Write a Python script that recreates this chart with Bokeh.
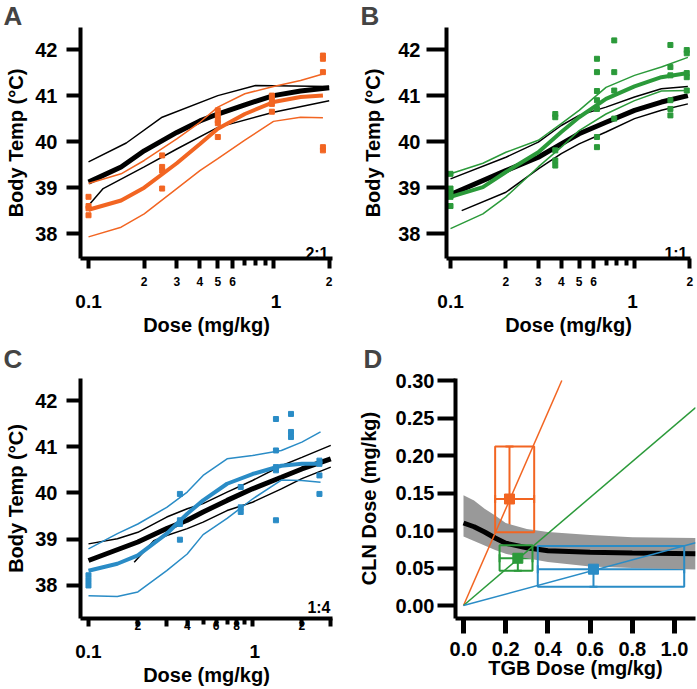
import math
from bokeh.plotting import figure
from bokeh.models import (FixedTicker, Label, CustomJSTickFormatter, Whisker, ColumnDataSource,
                          TeeHead, NumeralTickFormatter, Range1d, Title)
from bokeh.layouts import column, row
from bokeh.embed import file_html
from bokeh.resources import INLINE

FONT = "Liberation Sans"
ORANGE = "#F26522"
GREEN = "#2B9A3A"
BLUE = "#2A8CC6"
GRAY = "#999999"
AXIS_X_COLOR = "black"

# ---------------- Panel A (2:1) ----------------
A_dose = [0.1, 0.25, 0.5, 0.98, 1.85]
A_temps = [[38.8, 38.6, 38.55, 38.4],
           [39.7, 39.45, 39.37, 38.98],
           [40.68, 40.57, 40.46, 40.4, 40.1],
           [41.0, 40.9, 40.82, 40.65],
           [41.87, 41.8, 41.51, 39.88, 39.81]]
A_blk_x = [0.1, 0.15, 0.2, 0.3, 0.4, 0.5, 0.7, 1.0, 1.4, 2.0]
A_blk_y = [39.12, 39.45, 39.8, 40.2, 40.45, 40.6, 40.8, 41.0, 41.1, 41.17]
A_blk_hi_x = [0.1, 0.16, 0.25, 0.5, 0.8, 2.0]
A_blk_hi_y = [39.56, 39.97, 40.53, 41.0, 41.22, 41.2]
A_blk_lo_x = [0.1, 0.12, 0.2, 0.3, 0.5, 1.0, 2.0]
A_blk_lo_y = [38.61, 38.98, 39.45, 39.84, 40.31, 40.64, 40.89]
A_fit_x = [0.1, 0.15, 0.2, 0.3, 0.4, 0.5, 0.7, 1.0, 1.4, 1.85]
A_fit_y = [38.52, 38.72, 39.0, 39.53, 39.95, 40.28, 40.6, 40.86, 40.97, 41.0]
A_fit_hi_y = [39.09, 39.3, 39.59, 40.06, 40.42, 40.75, 41.04, 41.2, 41.33, 41.47]
A_fit_lo_y = [37.93, 38.14, 38.43, 38.98, 39.37, 39.63, 40.03, 40.44, 40.53, 40.52]

# ---------------- Panel B (1:1) ----------------
B_dose = [0.1, 0.371, 0.625, 0.776, 1.567, 1.923]
B_temps = [[39.3, 38.98, 38.9, 38.8, 38.6],
           [40.6, 40.53, 39.81, 39.59, 39.48],
           [41.8, 41.51, 41.1, 40.9, 40.71, 40.1, 39.88],
           [42.2, 41.51, 41.11, 40.5],
           [42.1, 41.62, 41.44, 40.9, 40.71, 40.57],
           [41.99, 41.92, 41.49, 41.4, 41.11]]
B_blk_x = [0.1, 0.2, 0.3, 0.4, 0.5, 0.7, 1.0, 1.4, 1.95]
B_blk_y = [38.85, 39.37, 39.66, 39.95, 40.17, 40.42, 40.68, 40.86, 41.0]
B_blk_hi_y = [39.19, 39.66, 39.99, 40.35, 40.57, 40.75, 40.97, 41.15, 41.2]
B_blk_lo_x = [0.115, 0.2, 0.3, 0.4, 0.5, 0.7, 1.0, 1.4, 1.95]
B_blk_lo_y = [38.5, 38.9, 39.41, 39.74, 39.95, 40.21, 40.5, 40.68, 40.82]
B_fit_x = [0.1, 0.15, 0.2, 0.3, 0.4, 0.5, 0.7, 1.0, 1.4, 1.95]
B_fit_y = [38.8, 39.01, 39.34, 39.77, 40.21, 40.53, 40.93, 41.2, 41.4, 41.49]
B_fit_hi_y = [39.3, 39.53, 39.77, 40.03, 40.39, 40.68, 41.18, 41.44, 41.62, 41.83]
B_fit_lo_y = [38.11, 38.43, 38.8, 39.45, 39.88, 40.24, 40.6, 40.89, 41.1, 41.11]

# ---------------- Panel C (1:4) ----------------
C_dose = [0.1, 0.361, 0.848, 1.39, 1.717, 2.56]
C_temps = [[38.22, 38.11, 38.0],
           [39.98, 39.41, 39.33, 38.99],
           [40.13, 39.69, 39.59],
           [41.6, 40.92, 40.56, 40.49, 39.41],
           [41.71, 41.32, 41.21],
           [40.7, 40.63, 40.38, 39.98]]
C_blk_x = [0.1, 0.2, 0.3, 0.4, 0.5, 0.7, 1.0, 1.5, 2.0, 3.0]
C_blk_y = [38.54, 38.94, 39.23, 39.41, 39.59, 39.84, 40.09, 40.34, 40.52, 40.74]
C_blk_hi_x = [0.1, 0.15, 0.2, 0.3, 0.4, 0.5, 0.7, 1.0, 1.5, 2.0, 3.0]
C_blk_hi_y = [38.9, 39.01, 39.15, 39.48, 39.66, 39.77, 40.02, 40.27, 40.59, 40.77, 41.03]
C_blk_lo_x = [0.19, 0.25, 0.3, 0.4, 0.5, 0.7, 1.0, 1.5, 2.0, 3.0]
C_blk_lo_y = [38.5, 38.97, 39.08, 39.23, 39.37, 39.62, 39.8, 40.09, 40.31, 40.56]
C_fit_x = [0.1, 0.15, 0.2, 0.3, 0.4, 0.5, 0.7, 1.0, 1.5, 2.0, 2.6]
C_fit_y = [38.32, 38.47, 38.65, 39.12, 39.55, 39.84, 40.2, 40.41, 40.59, 40.63, 40.63]
C_fit_hi_y = [38.79, 39.12, 39.33, 39.69, 40.02, 40.38, 40.74, 40.81, 40.92, 41.1, 41.32]
C_fit_lo_y = [37.78, 37.76, 37.86, 38.32, 38.68, 39.1, 39.45, 39.87, 40.28, 40.27, 40.23]

# ---------------- Panel D (isobologram) ----------------
D_band_x = [0.0, 0.05, 0.1, 0.15, 0.2, 0.3, 0.4, 0.6, 0.8, 1.1]
D_band_hi = [0.147, 0.140, 0.129, 0.120, 0.110, 0.102, 0.098, 0.094, 0.091, 0.090]
D_band_mid = [0.110, 0.105, 0.098, 0.090, 0.083, 0.077, 0.073, 0.071, 0.070, 0.069]
D_band_lo = [0.092, 0.086, 0.080, 0.074, 0.069, 0.063, 0.058, 0.052, 0.050, 0.048]
D_ratio_x_end = [0.466, 1.1, 1.1]
D_ratio_y_end = [0.300, 0.264, 0.0836]
D_tgb = [0.218, 0.2575, 0.616]
D_tgb_lo = [0.150, 0.171, 0.352]
D_tgb_hi = [0.335, 0.327, 1.046]
D_cln = [0.142, 0.063, 0.0484]
D_cln_lo = [0.0977, 0.0462, 0.0251]
D_cln_hi = [0.212, 0.0805, 0.0792]
D_colors = [ORANGE, GREEN, BLUE]

Y_TICKS = [38, 39, 40, 41, 42]
X_BIG_TICKS = [0.1, 1]
X_BIG_LABELS = ["0.1", "1"]
AB_MAJOR = [0.1, 0.2, 0.3, 0.4, 0.5, 0.6, 1, 2]
AB_MAJOR_LABELS = ["", "2", "3", "4", "5", "6", "", "2"]
AB_MINOR = [0.7, 0.8, 0.9]
C_MAJOR = [0.1, 0.2, 0.3, 0.4, 0.6, 0.8, 1, 2, 3]
C_MAJOR_LABELS = ["", "2", "", "4", "6", "8", "", "2", ""]
C_MINOR = [0.5, 0.7, 0.9]

LABEL_JS = """
for (let j = 0; j < t.length; j++) {
  if (Math.abs(t[j] - tick) < 1e-9 * Math.max(1, Math.abs(tick))) { return l[j]; }
}
return '';
"""
NBSP = "\u00a0"
DIGIT_EM = 0.556
SPACE_EM = 0.278
DOT_EM = 0.278


def fmt(ticks, labels):
    return CustomJSTickFormatter(args=dict(t=ticks, l=labels), code=LABEL_JS)


def lab(p, text, x, y, size, align="left", baseline="alphabetic"):
    p.add_layout(Label(x=x, y=y, x_units="screen", y_units="screen", text=text, text_font=FONT,
                       text_font_style="bold", text_font_size=size, text_align=align,
                       text_baseline=baseline, text_color="black"))


def style_axis(ax, color="black"):
    ax.axis_line_width = 4
    ax.axis_line_color = color
    ax.major_tick_in = 0
    ax.major_tick_line_color = color
    ax.major_label_text_font = FONT
    ax.major_label_text_font_style = "bold"
    ax.major_label_text_color = "black"
    ax.axis_label_text_font = FONT
    ax.axis_label_text_font_style = "bold"
    ax.axis_label_text_font_size = "20px"
    ax.axis_label_text_color = "black"


def set_letter(p, letter, offset, standoff, valign):
    p.title.text = letter
    p.title.text_font = FONT
    p.title.text_font_style = "bold"
    p.title.text_font_size = "26px"
    p.title.align = "left"
    p.title.vertical_align = valign
    p.title.offset = offset
    p.title.standoff = standoff


def big_tick_row(cfg, size_px):
    frame_w = cfg["w"] - cfg["bl"] - cfg["br"]
    lo, hi = cfg["xr"]
    px_per_dec = frame_w / (math.log10(hi) - math.log10(lo))
    pos = [(math.log10(t) - math.log10(lo)) * px_per_dec for t in X_BIG_TICKS]
    w0 = (2 * DIGIT_EM + DOT_EM) * size_px
    w1 = DIGIT_EM * size_px
    left0 = pos[0] - w0 / 2
    gap = (pos[1] - w1 / 2) - (left0 + w0)
    n = int(round(gap / (SPACE_EM * size_px)))
    return X_BIG_LABELS[0] + NBSP * n + X_BIG_LABELS[1], left0


def temp_panel(cfg, dose, temps, lines, color):
    p = figure(width=cfg["w"], height=cfg["h"], x_axis_type="log",
               x_range=Range1d(*cfg["xr"]), y_range=Range1d(*cfg["yr"]),
               output_backend="svg", toolbar_location=None,
               min_border_left=cfg["bl"], min_border_right=cfg["br"],
               min_border_top=cfg["bt"], min_border_bottom=cfg["bb"])
    p.grid.visible = False
    p.outline_line_color = None

    xa = p.xaxis[0]
    style_axis(xa, AXIS_X_COLOR)
    xa.ticker = FixedTicker(ticks=cfg["major"], minor_ticks=cfg["minor"])
    xa.formatter = fmt(cfg["major"], cfg["major_labels"])
    xa.major_label_text_font_size = "12px"
    xa.major_label_standoff = cfg["s_stand"]
    xa.major_tick_out = cfg["xmaj"]
    xa.major_tick_line_width = 4
    xa.minor_tick_out = cfg["xmin"]
    xa.minor_tick_in = 0
    xa.minor_tick_line_width = 4
    xa.minor_tick_line_color = AXIS_X_COLOR

    text, left0 = big_tick_row(cfg, 19)
    p.add_layout(Title(text=text, align="left", offset=left0, vertical_align="top",
                       standoff=cfg["b_stand"], text_font=FONT, text_font_style="bold",
                       text_font_size="19px", text_color="black"), "below")
    p.add_layout(Title(text="Dose (mg/kg)", align="center", vertical_align="top",
                       standoff=cfg["t_stand"], text_font=FONT, text_font_style="bold",
                       text_font_size="20px", text_color="black"), "below")

    ya = p.yaxis[0]
    style_axis(ya)
    ya.ticker = FixedTicker(ticks=Y_TICKS)
    ya.major_tick_out = cfg["ytick"]
    ya.major_tick_line_width = 4
    ya.minor_tick_line_color = None
    ya.major_label_text_font_size = "20px"
    ya.major_label_standoff = cfg["ystand"]
    ya.axis_label = "Body Temp (°C)"
    ya.axis_label_standoff = cfg["ytstand"]

    for (lx, ly, c, w) in lines:
        p.line(lx, ly, line_color=c, line_width=w)
    xs, ys = [], []
    for d, ts in zip(dose, temps):
        for t in ts:
            xs.append(d)
            ys.append(t)
    p.scatter(xs, ys, marker="square", size=5, fill_color=color, line_color=color)

    set_letter(p, cfg["letter"], cfg["let_off"], cfg["let_stand"], cfg["let_va"])
    lab(p, cfg["ratio"], cfg["rat_x"], cfg["rat_y"], "16px", align="right")
    return p


cfgA = dict(w=348, h=340, bl=80, br=16, bt=27, bb=82, xr=(0.0905, 2.084), yr=(37.46, 42.48),
            major=AB_MAJOR, major_labels=AB_MAJOR_LABELS, minor=AB_MINOR, xmaj=10, xmin=7,
            ytick=14, ystand=9, ytstand=5, s_stand=8, b_stand=4, t_stand=-3,
            letter="A", let_off=-77, let_stand=-6, let_va="bottom", ratio="2:1", rat_x=248, rat_y=5)
cfgB = dict(w=349, h=340, bl=98, br=7, bt=27, bb=82, xr=(0.0951, 2.015), yr=(37.46, 42.48),
            major=AB_MAJOR, major_labels=AB_MAJOR_LABELS, minor=AB_MINOR, xmaj=10, xmin=7,
            ytick=20, ystand=6, ytstand=11, s_stand=8, b_stand=4, t_stand=-3,
            letter="B", let_off=-86, let_stand=-6, let_va="bottom", ratio="1:1", rat_x=241, rat_y=5)
cfgC = dict(w=348, h=348, bl=80, br=16, bt=38, bb=70, xr=(0.0894, 3.075), yr=(37.286, 42.476),
            major=C_MAJOR, major_labels=C_MAJOR_LABELS, minor=C_MINOR, xmaj=8, xmin=6,
            ytick=14, ystand=9, ytstand=5, s_stand=-6, b_stand=16, t_stand=-15,
            letter="C", let_off=-77, let_stand=6, let_va="top", ratio="1:4", rat_x=250, rat_y=11)

pA = temp_panel(cfgA, A_dose, A_temps, [
    (A_blk_hi_x, A_blk_hi_y, "black", 1.5),
    (A_blk_lo_x, A_blk_lo_y, "black", 1.5),
    (A_blk_x, A_blk_y, "black", 5),
    (A_fit_x, A_fit_hi_y, ORANGE, 1.5),
    (A_fit_x, A_fit_lo_y, ORANGE, 1.5),
    (A_fit_x, A_fit_y, ORANGE, 4),
], ORANGE)
pB = temp_panel(cfgB, B_dose, B_temps, [
    (B_blk_x, B_blk_hi_y, "black", 1.5),
    (B_blk_lo_x, B_blk_lo_y, "black", 1.5),
    (B_blk_x, B_blk_y, "black", 5),
    (B_fit_x, B_fit_hi_y, GREEN, 1.5),
    (B_fit_x, B_fit_lo_y, GREEN, 1.5),
    (B_fit_x, B_fit_y, GREEN, 4),
], GREEN)
pC = temp_panel(cfgC, C_dose, C_temps, [
    (C_blk_hi_x, C_blk_hi_y, "black", 1.5),
    (C_blk_lo_x, C_blk_lo_y, "black", 1.5),
    (C_blk_x, C_blk_y, "black", 5),
    (C_fit_x, C_fit_hi_y, BLUE, 1.5),
    (C_fit_x, C_fit_lo_y, BLUE, 1.5),
    (C_fit_x, C_fit_y, BLUE, 4),
], BLUE)

# ---------------- Panel D ----------------
pD = figure(width=349, height=348, x_range=Range1d(-0.0379, 1.0995), y_range=Range1d(-0.01733, 0.30267),
            output_backend="svg", toolbar_location=None,
            min_border_left=107, min_border_right=2, min_border_top=38, min_border_bottom=70)
pD.grid.visible = False
pD.outline_line_color = None
xa = pD.xaxis[0]
style_axis(xa, AXIS_X_COLOR)
xa.ticker = FixedTicker(ticks=[0.0, 0.2, 0.4, 0.6, 0.8, 1.0])
xa.formatter = NumeralTickFormatter(format="0.0")
xa.major_tick_out = 15
xa.major_tick_line_width = 5
xa.minor_tick_line_color = None
xa.major_label_text_font_size = "20px"
xa.major_label_standoff = 8
pD.add_layout(Title(text="TGB Dose (mg/kg)", align="center", vertical_align="top", standoff=-4,
                    text_font=FONT, text_font_style="bold", text_font_size="20px",
                    text_color="black"), "below")
ya = pD.yaxis[0]
style_axis(ya)
ya.ticker = FixedTicker(ticks=[0.0, 0.05, 0.10, 0.15, 0.20, 0.25, 0.30])
ya.formatter = NumeralTickFormatter(format="0.00")
ya.major_tick_out = 18
ya.major_tick_line_width = 4
ya.minor_tick_line_color = None
ya.major_label_text_font_size = "20px"
ya.major_label_standoff = 3
ya.axis_label = "CLN Dose (mg/kg)"
ya.axis_label_standoff = 13

pD.varea(x=D_band_x, y1=D_band_lo, y2=D_band_hi, fill_color=GRAY, fill_alpha=1.0)
pD.line(D_band_x, D_band_mid, line_color="black", line_width=5)
for xe, ye, c in zip(D_ratio_x_end, D_ratio_y_end, D_colors):
    pD.line([0, xe], [0, ye], line_color=c, line_width=1.5)
for i, c in enumerate(D_colors):
    pD.quad(left=[D_tgb_lo[i]], right=[D_tgb_hi[i]], bottom=[D_cln_lo[i]], top=[D_cln_hi[i]],
            fill_color=None, line_color=c, line_width=2)
    src = ColumnDataSource(dict(x=[D_tgb[i]], y=[D_cln[i]], xlo=[D_tgb_lo[i]], xhi=[D_tgb_hi[i]],
                                ylo=[D_cln_lo[i]], yhi=[D_cln_hi[i]]))
    pD.add_layout(Whisker(source=src, base="x", lower="ylo", upper="yhi", dimension="height",
                          line_color=c, line_width=2,
                          upper_head=TeeHead(size=8, line_color=c, line_width=2),
                          lower_head=TeeHead(size=8, line_color=c, line_width=2)))
    pD.add_layout(Whisker(source=src, base="y", lower="xlo", upper="xhi", dimension="width",
                          line_color=c, line_width=2,
                          upper_head=TeeHead(size=8, line_color=c, line_width=2),
                          lower_head=TeeHead(size=8, line_color=c, line_width=2)))
    pD.scatter([D_tgb[i]], [D_cln[i]], marker="square", size=10, fill_color=c, line_color=c)
set_letter(pD, "D", -92, 6, "top")

layout = column(row(pA, pB), row(pC, pD))
open("out.html", "w").write(file_html(layout, INLINE))
